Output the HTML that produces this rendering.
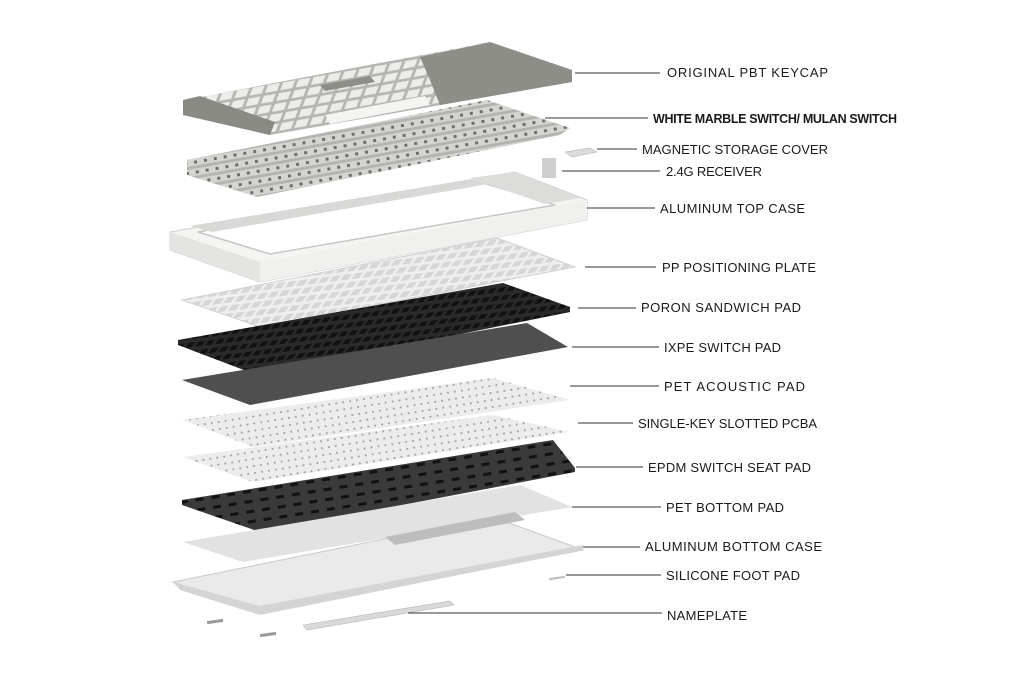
<!DOCTYPE html>
<html><head><meta charset="utf-8"><style>
html,body{margin:0;padding:0;background:#fff;}
svg{display:block}
text{font-family:"Liberation Sans",sans-serif;font-size:13px;fill:#1a1a1a;}
</style></head><body>
<svg width="1024" height="692" viewBox="0 0 1024 692" xmlns="http://www.w3.org/2000/svg">
<defs>
<pattern id="holes" width="9" height="9" patternUnits="userSpaceOnUse" patternTransform="skewX(-40) rotate(-8)">
<rect width="9" height="9" fill="#2a2a2a"/><rect x="1" y="1" width="6" height="5" fill="#111"/>
</pattern>
<pattern id="slots" width="16" height="10" patternUnits="userSpaceOnUse" patternTransform="rotate(-9)">
<rect width="16" height="10" fill="#3a3a3a"/><rect x="3" y="3" width="8" height="3" fill="#111"/>
</pattern>
<pattern id="dots" width="7" height="7" patternUnits="userSpaceOnUse" patternTransform="rotate(-9)">
<rect width="7" height="7" fill="#ececec"/><circle cx="3" cy="3" r="1" fill="#9a9a9a"/>
</pattern>
<pattern id="sw" width="10" height="10" patternUnits="userSpaceOnUse" patternTransform="rotate(-10)">
<rect width="10" height="10" fill="#d4d4d1"/><rect x="3" y="2" width="3" height="3" fill="#6e6e6a"/><rect x="0" y="7" width="10" height="3" fill="#b4b4b0"/>
</pattern>
<pattern id="keys" width="14" height="11" patternUnits="userSpaceOnUse" patternTransform="skewX(-30) rotate(-11)">
<rect width="14" height="11" fill="#b5b5b1"/><rect x="1" y="1" width="11" height="8" fill="#ececea"/>
</pattern>
<pattern id="plate" width="10" height="9" patternUnits="userSpaceOnUse" patternTransform="skewX(-40) rotate(-8)">
<rect width="10" height="9" fill="#efefef"/><rect x="1" y="1" width="7" height="6" fill="#d6d6d6"/>
</pattern>
</defs>

<!-- Keycaps -->
<polygon points="185,100 490,42 572,70 572,82 270,135 183,115" fill="url(#keys)"/>
<polygon points="183,100 200,96 275,122 270,135 183,115" fill="#8a8a85"/>
<polygon points="325,115 425,96 430,105 330,124" fill="#f4f4f2"/>
<polygon points="420,57 490,42 572,70 572,82 440,105 430,80" fill="#8e8e89"/>
<polygon points="320,85 370,76 375,82 325,91" fill="#8e8e89"/>
<!-- Switches -->
<polygon points="187,160 487,100 570,128 560,135 257,197 187,175" fill="url(#sw)"/>
<!-- cover & receiver -->
<polygon points="565,152 590,148 597,152 572,157" fill="#dcdcdc" stroke="#aaa" stroke-width="0.5"/>
<rect x="542" y="158" width="14" height="20" fill="#cfcfcf"/>
<!-- Top case -->
<polygon points="170,232 515,172 587,200 587,220 260,282 170,250" fill="#f4f4f2" stroke="#cfcfcc" stroke-width="1"/>
<polygon points="170,232 260,262 260,282 170,250" fill="#e4e4e2"/>
<polygon points="260,262 587,200 587,220 260,282" fill="#f0f0ee"/>
<polygon points="198,232 480,182 555,205 270,254" fill="#fff" stroke="#c6c6c4" stroke-width="1.5"/>
<polygon points="190,226 478,178 500,182 212,232" fill="#d8d8d6"/>
<polygon points="470,178 515,172 580,198 545,204" fill="#dcdcda"/>
<!-- PP plate -->
<polygon points="182,300 497,238 575,267 260,327" fill="url(#plate)" stroke="#d0d0d0"/>
<!-- IXPE -->
<polygon points="178,340 503,283 570,307 570,312 257,375 178,345" fill="url(#holes)"/>
<!-- PET acoustic -->
<polygon points="182,380 527,323 568,347 250,405" fill="#4f4f4f"/>
<!-- light sheet -->
<polygon points="183,420 493,378 570,400 253,447" fill="url(#dots)"/>
<!-- PCBA -->
<polygon points="183,457 493,415 570,432 253,482" fill="url(#dots)"/>
<!-- EPDM -->
<polygon points="182,500 553,440 575,468 575,472 260,532 182,505" fill="url(#slots)"/>
<!-- PET bottom -->
<polygon points="183,542 520,485 572,507 243,562" fill="#e2e2e2"/>
<!-- Bottom case -->
<polygon points="173,582 493,517 583,550 260,613" fill="#eaeaea" stroke="#c8c8c8"/>
<polygon points="173,582 260,606 583,545 583,550 260,615 180,590" fill="#d4d4d4"/>
<polygon points="385,537 515,512 525,520 395,545" fill="#bdbdbd"/>
<!-- nameplate, feet -->
<polygon points="303,625 450,601 454,605 307,630" fill="#d9d9d9" stroke="#b5b5b5" stroke-width="0.6"/>
<rect x="207" y="620" width="16" height="3" fill="#999" transform="rotate(-8 215 621)"/>
<rect x="260" y="633" width="16" height="3" fill="#999" transform="rotate(-8 268 634)"/>
<rect x="549" y="577" width="16" height="2" fill="#bbb" transform="rotate(-8 557 578)"/>

<!-- Leader lines -->
<g stroke="#333" stroke-width="1">
<line x1="575" y1="73" x2="660" y2="73"/>
<line x1="545" y1="118" x2="648" y2="118"/>
<line x1="597" y1="149" x2="637" y2="149"/>
<line x1="562" y1="171" x2="660" y2="171"/>
<line x1="587" y1="208" x2="655" y2="208"/>
<line x1="585" y1="267" x2="656" y2="267"/>
<line x1="578" y1="308" x2="636" y2="308"/>
<line x1="572" y1="347" x2="659" y2="347"/>
<line x1="570" y1="386" x2="659" y2="386"/>
<line x1="578" y1="423" x2="633" y2="423"/>
<line x1="576" y1="467" x2="643" y2="467"/>
<line x1="572" y1="507" x2="661" y2="507"/>
<line x1="583" y1="547" x2="640" y2="547"/>
<line x1="566" y1="575" x2="661" y2="575"/>
<line x1="408" y1="613" x2="662" y2="613"/>
</g>
<g>
<text x="667" y="77" textLength="161">ORIGINAL PBT KEYCAP</text>
<text x="653" y="123" font-weight="bold" style="font-size:12.5px" textLength="244">WHITE MARBLE SWITCH/ MULAN SWITCH</text>
<text x="642" y="154" textLength="186">MAGNETIC STORAGE COVER</text>
<text x="666" y="176" textLength="96">2.4G RECEIVER</text>
<text x="660" y="213" textLength="145">ALUMINUM TOP CASE</text>
<text x="662" y="272" textLength="154">PP POSITIONING PLATE</text>
<text x="641" y="312" textLength="160">PORON SANDWICH PAD</text>
<text x="664" y="352" textLength="117">IXPE SWITCH PAD</text>
<text x="664" y="391" textLength="141">PET ACOUSTIC PAD</text>
<text x="638" y="428" textLength="179">SINGLE-KEY SLOTTED PCBA</text>
<text x="648" y="472" textLength="163">EPDM SWITCH SEAT PAD</text>
<text x="666" y="512" textLength="118">PET BOTTOM PAD</text>
<text x="645" y="551" textLength="177">ALUMINUM BOTTOM CASE</text>
<text x="666" y="580" textLength="134">SILICONE FOOT PAD</text>
<text x="667" y="620" textLength="80">NAMEPLATE</text>
</g>
</svg>
</body></html>
